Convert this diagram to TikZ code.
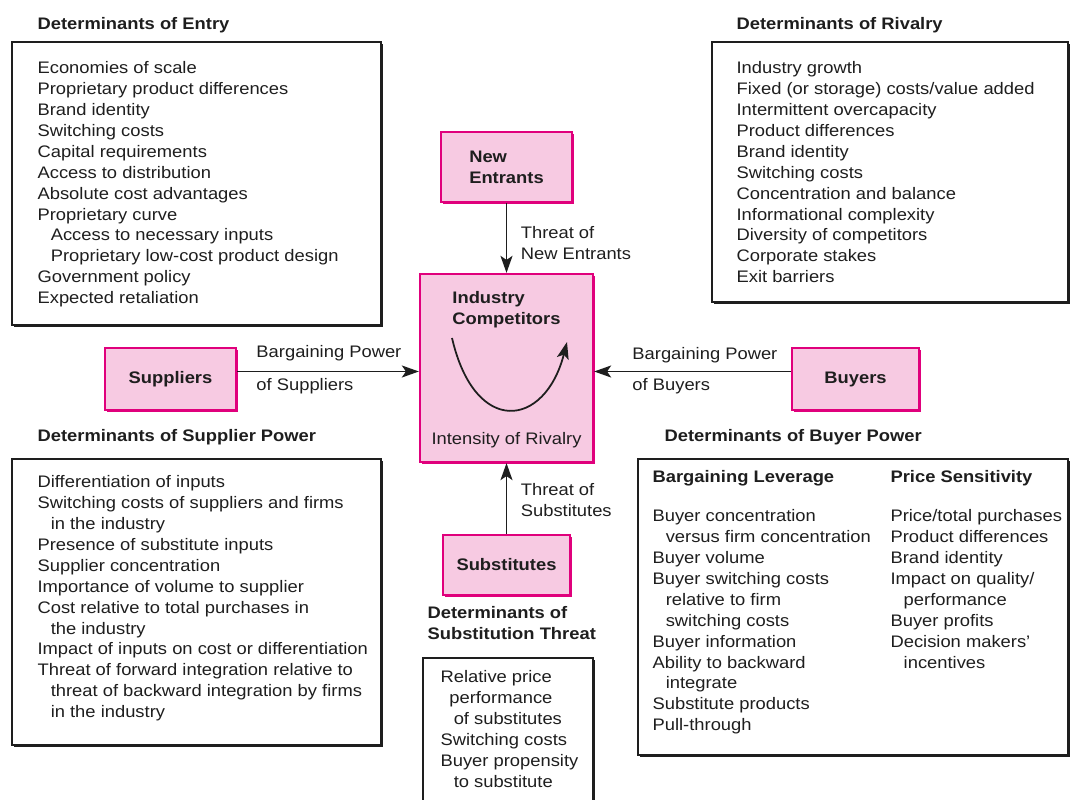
\documentclass[tikz,border=0pt]{standalone}
\usepackage{fontspec}
\setmainfont{Liberation Sans}[FakeStretch=1.1]
\usetikzlibrary{positioning, shadows, arrows.meta}

\definecolor{forcepink}{RGB}{247,202,226}
\definecolor{forceedge}{RGB}{224,0,124}
\definecolor{inkgray}{RGB}{30,30,30}

\newcommand{\diagfont}{\fontsize{9.5}{11.9}\selectfont}
\newcommand{\indnt}{\hspace*{7.5pt}}

\tikzset{
  detbox/.style={draw=inkgray, fill=white, line width=0.9pt,
    drop shadow={shadow xshift=1.1pt, shadow yshift=-1.1pt, fill=inkgray, opacity=1}},
  forcebox/.style={draw=forceedge, fill=forcepink, line width=1.3pt,
    drop shadow={shadow xshift=1.1pt, shadow yshift=-1.1pt, fill=forceedge, opacity=1},
    font=\diagfont\bfseries, text=inkgray, align=left},
  dettitle/.style={font=\diagfont\bfseries, inner sep=0pt, text=inkgray, align=left},
  listtext/.style={font=\diagfont, inner sep=0pt, text=inkgray, align=left},
  forcearrow/.style={draw=inkgray, line width=0.9pt, -{Stealth[length=3.4mm, width=2.4mm, inset=0.8mm]}},
}

\begin{document}
\begin{tikzpicture}[x=0.02cm, y=-0.02cm]
    \clip (0,0) rectangle (1073,800);

    % determinant boxes
    \node[detbox, minimum width=7.38cm, minimum height=5.66cm] (entrybox) at (196.5,183.5) {};
    \node[detbox, minimum width=7.12cm, minimum height=5.2cm] (rivalbox) at (890,172) {};
    \node[detbox, minimum width=7.38cm, minimum height=5.72cm] (supbox) at (196.5,602) {};
    \node[detbox, minimum width=8.6cm, minimum height=5.92cm] (buybox) at (853,607) {};
    \node[detbox, minimum width=3.4cm, minimum height=3.14cm] (subbox) at (508,736.5) {};

    \node[dettitle, above right = 0.16cm and 0.52cm of entrybox.north west] (entrytitle) {Determinants of Entry};
    \node[listtext, below right = 0.4cm and 0.52cm of entrybox.north west] (entrylist) {Economies of scale\\
        Proprietary product differences\\
        Brand identity\\
        Switching costs\\
        Capital requirements\\
        Access to distribution\\
        Absolute cost advantages\\
        Proprietary curve\\
        \indnt Access to necessary inputs\\
        \indnt Proprietary low-cost product design\\
        Government policy\\
        Expected retaliation};

    \node[dettitle, above right = 0.16cm and 0.5cm of rivalbox.north west] (rivaltitle) {Determinants of Rivalry};
    \node[listtext, below right = 0.4cm and 0.5cm of rivalbox.north west] (rivallist) {Industry growth\\
        Fixed (or storage) costs/value added\\
        Intermittent overcapacity\\
        Product differences\\
        Brand identity\\
        Switching costs\\
        Concentration and balance\\
        Informational complexity\\
        Diversity of competitors\\
        Corporate stakes\\
        Exit barriers};

    \node[dettitle, above right = 0.25cm and 0.52cm of supbox.north west] (suptitle) {Determinants of Supplier Power};
    \node[listtext, below right = 0.34cm and 0.52cm of supbox.north west] (suplist) {Differentiation of inputs\\
        Switching costs of suppliers and firms\\
        \indnt in the industry\\
        Presence of substitute inputs\\
        Supplier concentration\\
        Importance of volume to supplier\\
        Cost relative to total purchases in\\
        \indnt the industry\\
        Impact of inputs on cost or differentiation\\
        Threat of forward integration relative to\\
        \indnt threat of backward integration by firms\\
        \indnt in the industry};

    \node[dettitle, above right = 0.25cm and 0.54cm of buybox.north west] (buytitle) {Determinants of Buyer Power};
    \node[dettitle, below right = 0.24cm and 0.3cm of buybox.north west] (levhead) {Bargaining Leverage};
    \node[dettitle, below right = 0.24cm and 5.06cm of buybox.north west] (pricehead) {Price Sensitivity};
    \node[listtext, below right = 1.02cm and 0.3cm of buybox.north west] (levlist) {Buyer concentration\\
        \indnt versus firm concentration\\
        Buyer volume\\
        Buyer switching costs\\
        \indnt relative to firm\\
        \indnt switching costs\\
        Buyer information\\
        Ability to backward\\
        \indnt integrate\\
        Substitute products\\
        Pull-through};
    \node[listtext, below right = 1.02cm and 5.06cm of buybox.north west] (pricelist) {Price/total purchases\\
        Product differences\\
        Brand identity\\
        Impact on quality/\\
        \indnt performance\\
        Buyer profits\\
        Decision makers'\\
        \indnt incentives};

    \node[dettitle, above right = 0.34cm and 0.1cm of subbox.north west] (subtitle) {Determinants of\\Substitution Threat};
    \node[listtext, below right = 0.26cm and 0.36cm of subbox.north west] (sublist) {Relative price\\
        \hspace*{5pt}performance\\
        \indnt of substitutes\\
        Switching costs\\
        Buyer propensity\\
        \indnt to substitute};

    % the five forces
    \node[forcebox, minimum width=2.62cm, minimum height=1.4cm] (newent) at (506.5,167) {New\\Entrants};
    \node[forcebox, minimum width=3.46cm, minimum height=3.76cm] (industry) at (506.5,368) {};
    \node[forcebox, minimum width=2.62cm, minimum height=1.24cm] (suppliers) at (170.5,379) {Suppliers};
    \node[forcebox, minimum width=2.54cm, minimum height=1.24cm] (buyers) at (855.5,379) {Buyers};
    \node[forcebox, minimum width=2.54cm, minimum height=1.2cm] (subst) at (506.5,565) {Substitutes};

    \node[dettitle, below = 0.36cm of industry.north] (comptext) {Industry\\Competitors};
    \node[listtext, above = 0.29cm of industry.south] (rivaltext) {Intensity of Rivalry};
    \coordinate (curvestart) at (452,338);
    \coordinate (curveend) at (567,342);
    \draw[forcearrow, line width=1pt] (curvestart) .. controls (475,437) and (545,428) .. (curveend);

    % threats and bargaining power
    \draw[forcearrow] (newent.south) -- (industry.north);
    \node[listtext, below right = 0.46cm and 0.28cm of newent.south] (entlabel) {Threat of\\New Entrants};

    \draw[forcearrow] (subst.north) -- (industry.south);
    \node[listtext, below right = 0.4cm and 0.28cm of industry.south] (sublabel) {Threat of\\Substitutes};

    \coordinate (supin) at ([yshift=0.15cm]suppliers.east);
    \draw[forcearrow] (supin) -- (supin -| industry.west);
    \node[listtext, above right = 0.21cm and 0.38cm of supin] (suplabA) {Bargaining Power};
    \node[listtext, below right = 0.14cm and 0.38cm of supin] (suplabB) {of Suppliers};

    \coordinate (buyin) at ([yshift=0.15cm]buyers.west);
    \draw[forcearrow] (buyin) -- (buyin -| industry.east);
    \node[listtext, above right = 0.17cm and 0.76cm of buyin -| industry.east] (buylabA) {Bargaining Power};
    \node[listtext, below right = 0.14cm and 0.76cm of buyin -| industry.east] (buylabB) {of Buyers};

\end{tikzpicture}
\end{document}
